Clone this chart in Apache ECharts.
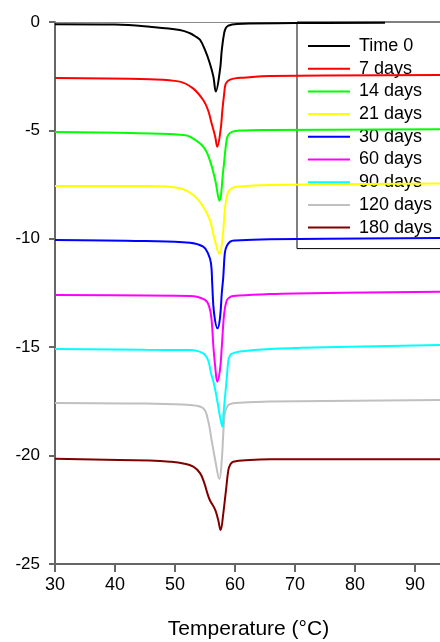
<!DOCTYPE html>
<html>
<head>
<meta charset="utf-8">
<script src="https://cdn.jsdelivr.net/npm/echarts@6/dist/echarts.min.js"></script>
<style>
  html, body { margin: 0; padding: 0; background: #fff; }
  #myChart { width: 440px; height: 642px; }
</style>
</head>
<body>
<div id="myChart"></div>
<script>
  // temperature (°C), heat flow readings per storage time
  var seriesNames = ['Time 0', '7 days', '14 days', '21 days', '30 days', '60 days', '90 days', '120 days', '180 days'];
  var seriesColors = ['#000000', '#ff0000', '#00ff00', '#ffff00', '#0000ff', '#ff00ff', '#00ffff', '#c0c0c0', '#800000'];
  var xTicks = [30, 40, 50, 60, 70, 80, 90];
  var yTicks = [0, -5, -10, -15, -20, -25];

  var time0 = [[30,-0.1],[40,-0.12],[45.8,-0.22],[50.8,-0.37],[52.5,-0.52],[53.6,-0.7],[54.2,-0.83],[55,-1.29],[55.8,-1.9],[56.4,-2.52],[56.8,-3.21],[57.5,-2.21],[57.8,-1.29],[58.2,-0.5],[58.5,-0.27],[58.9,-0.17],[59.5,-0.12],[60.3,-0.09],[70,-0.05],[85,-0.03]];
  var day7 = [[30,-2.58],[45.8,-2.64],[50.8,-2.75],[53,-3.06],[54.7,-3.6],[55.5,-4.06],[56.1,-4.67],[56.7,-5.29],[57.05,-5.75],[57.6,-4.98],[57.9,-4.06],[58.2,-3.29],[58.4,-2.9],[58.7,-2.75],[59.2,-2.66],[60,-2.6],[61.3,-2.57],[65.8,-2.49],[94.5,-2.45]];
  var day14 = [[30,-5.07],[45.8,-5.14],[51.4,-5.21],[52.5,-5.29],[54.7,-5.75],[55.8,-6.37],[56.7,-7.29],[57.4,-8.24],[58.05,-6.83],[58.6,-5.44],[58.9,-5.2],[59.4,-5.08],[60.8,-5.01],[65.8,-4.98],[94.5,-4.95]];
  var day21 = [[30,-7.56],[45.8,-7.56],[50.8,-7.67],[53.05,-7.98],[54.7,-8.52],[55.8,-9.13],[56.5,-9.9],[57.4,-10.7],[57.95,-9.9],[58.3,-8.67],[58.6,-8.1],[58.9,-7.83],[59.4,-7.68],[60.3,-7.6],[65.8,-7.52],[94.5,-7.45]];
  var day30 = [[30,-10.05],[45,-10.1],[52.5,-10.18],[54.7,-10.36],[55.5,-10.67],[56,-11.13],[56.2,-12.05],[56.5,-13.4],[57.1,-14.13],[57.5,-13.65],[57.8,-12.5],[58.05,-11.75],[58.3,-10.67],[58.6,-10.35],[59.2,-10.13],[60,-10.08],[65.8,-10.02],[94.5,-9.96]];
  var day60 = [[30,-12.59],[52.5,-12.64],[55,-12.82],[55.7,-13.13],[56.1,-13.75],[56.4,-14.98],[56.7,-15.9],[57.05,-16.59],[57.5,-16.05],[57.8,-14.98],[58.2,-13.44],[58.6,-12.86],[59,-12.72],[59.7,-12.64],[65.8,-12.55],[70,-12.52],[94.5,-12.44]];
  var day90 = [[30,-15.08],[45,-15.12],[52.5,-15.13],[54.7,-15.28],[55.5,-15.59],[56,-16.2],[56.5,-16.7],[57,-17.4],[57.5,-18.2],[57.9,-18.67],[58.1,-18.0],[58.3,-17.4],[58.6,-16.5],[58.9,-15.6],[59.15,-15.4],[59.4,-15.31],[60.8,-15.2],[65.8,-15.08],[75,-15.0],[94.5,-14.9]];
  var day120 = [[30,-17.57],[45,-17.6],[52.5,-17.67],[54.7,-17.82],[55.5,-18.36],[56.1,-19.28],[56.7,-20.2],[57.4,-21.08],[57.8,-20.2],[58.05,-18.97],[58.3,-18.05],[58.6,-17.8],[58.9,-17.67],[59.5,-17.6],[60.8,-17.56],[65.8,-17.51],[94.5,-17.43]];
  var day180 = [[30,-20.15],[45.8,-20.23],[49.2,-20.28],[51.4,-20.36],[53.05,-20.51],[54.2,-20.82],[54.9,-21.28],[55.4,-21.74],[55.8,-22.05],[56.7,-22.5],[57.2,-22.97],[57.6,-23.43],[58.05,-22.66],[58.5,-21.59],[58.9,-20.66],[59.2,-20.42],[59.7,-20.28],[62.5,-20.2],[65.8,-20.17],[94.5,-20.17]];

  var allData = [time0, day7, day14, day21, day30, day60, day90, day120, day180];

  var myChart = echarts.init(document.getElementById('myChart'));
  var font = 'Liberation Sans, Arial, sans-serif';

  var series = [];
  for (var i = 0; i < allData.length; i++) {
    series.push({
      name: seriesNames[i],
      type: 'line',
      data: allData[i],
      symbol: 'none',
      smooth: 0.4,
      color: seriesColors[i],
      lineStyle: { width: 2, color: seriesColors[i] },
      z: 10 - i
    });
  }

  var option = {
    animation: false,
    backgroundColor: '#fff',
    grid: { left: 55, top: 22, right: -2, bottom: 78, outerBoundsMode: 'none' },
    legend: {
      orient: 'vertical',
      left: 297,
      top: 22,
      padding: [15, 40, 12, 11],
      icon: 'rect',
      itemWidth: 42,
      itemHeight: 2,
      itemGap: 4.7,
      borderColor: '#000',
      borderWidth: 1,
      backgroundColor: '#fff',
      data: seriesNames,
      textStyle: { fontFamily: font, fontSize: 18, color: '#000', lineHeight: 18, padding: [0, 0, 0, 4] }
    },
    xAxis: [{
      type: 'value',
      min: 30,
      max: 94.5,
      name: 'Temperature (°C)',
      nameLocation: 'middle',
      nameGap: 55,
      nameTextStyle: { fontFamily: font, fontSize: 21, color: '#000' },
      splitLine: { show: false },
      axisLine: { onZero: false, lineStyle: { color: '#666', width: 2 } },
      axisTick: { customValues: xTicks, length: 8, lineStyle: { color: '#666', width: 2 } },
      axisLabel: { customValues: xTicks, margin: 12, fontFamily: font, fontSize: 18, color: '#000' }
    }, {
      // plain top frame line
      type: 'value',
      position: 'top',
      min: 30,
      max: 94.5,
      splitLine: { show: false },
      axisLine: { onZero: false, lineStyle: { color: '#888', width: 1 } },
      axisTick: { show: false },
      axisLabel: { show: false }
    }],
    yAxis: {
      type: 'value',
      min: -25,
      max: 0,
      interval: 5,
      splitLine: { show: false },
      axisLine: { show: true, onZero: false, lineStyle: { color: '#666', width: 2 } },
      axisTick: { show: true, customValues: yTicks, length: 6, lineStyle: { color: '#666', width: 2 } },
      axisLabel: { customValues: yTicks, margin: 15, fontFamily: font, fontSize: 17, color: '#000' }
    },
    series: series
  };
  myChart.setOption(option);
</script>
</body>
</html>
